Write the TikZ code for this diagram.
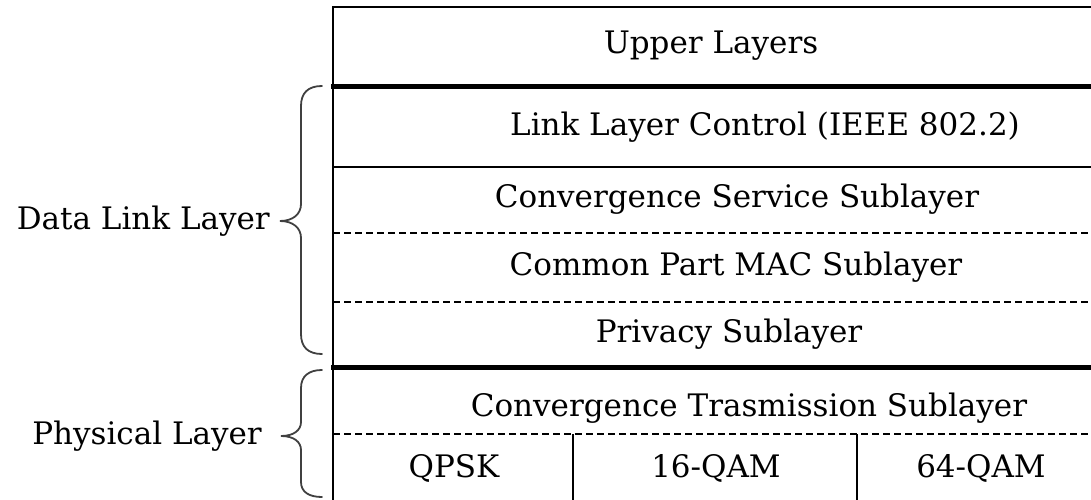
\documentclass[tikz,border=0pt]{standalone}
\usepackage{fontspec}
\setmainfont{DejaVu Serif}
\tikzset{
  lbl/.style={inner sep=0pt, font=\fontsize{31}{36}\selectfont},
  thinline/.style={line width=1.5pt},
  thickline/.style={line width=5pt},
  dashline/.style={line width=2pt, dash pattern=on 7pt off 4pt},
  bracestyle/.style={draw=black!75, line width=1.8pt, line cap=round}
}
\begin{document}
\begin{tikzpicture}[x=1pt,y=-1pt]
\useasboundingbox (0,0) rectangle (1091,500);
% outer frame
\draw[thinline] (333,505) -- (333,7) -- (1100,7);
% separators
\draw[thickline] (331,87) -- (1100,87);
\draw[thinline] (333,167) -- (1100,167);
\draw[dashline] (333,233) -- (1100,233);
\draw[dashline] (333,302) -- (1100,302);
\draw[thickline] (331,367) -- (1100,367);
\draw[dashline] (333,434) -- (1100,434);
\draw[thinline] (573,434) -- (573,505);
\draw[thinline] (857,434) -- (857,505);
% texts
\node[lbl] (ul) at (711,46) {Upper Layers};
\node[lbl] (llc) at (765,127) {Link Layer Control (IEEE 802.2)};
\node[lbl] (css) at (737,199) {Convergence Service Sublayer};
\node[lbl] (cps) at (736,267) {Common Part MAC Sublayer};
\node[lbl] (ps) at (729,334) {Privacy Sublayer};
\node[lbl] (cts) at (749,408) {Convergence Trasmission Sublayer};
\node[lbl] (qpsk) at (454,468) {QPSK};
\node[lbl] (q16) at (716,468) {16-QAM};
\node[lbl] (q64) at (981,468) {64-QAM};
% braces
\draw[bracestyle] (322,86) .. controls (308,86) and (301,93) .. (301,106)
  -- (301,204) .. controls (301,214) and (293,221) .. (280,221)
  .. controls (293,221) and (301,228) .. (301,238)
  -- (301,334) .. controls (301,347) and (308,354) .. (322,354);
\draw[bracestyle] (322,370) .. controls (309,370) and (301,376) .. (301,388)
  -- (301,422) .. controls (301,430) and (294,436) .. (281,436)
  .. controls (294,436) and (301,442) .. (301,450)
  -- (301,482) .. controls (301,492) and (309,497) .. (322,497);
\node[lbl, anchor=east] (dll) at (270,221) {Data Link Layer};
\node[lbl, anchor=east] (phy) at (262,436) {Physical Layer};
\end{tikzpicture}
\end{document}
